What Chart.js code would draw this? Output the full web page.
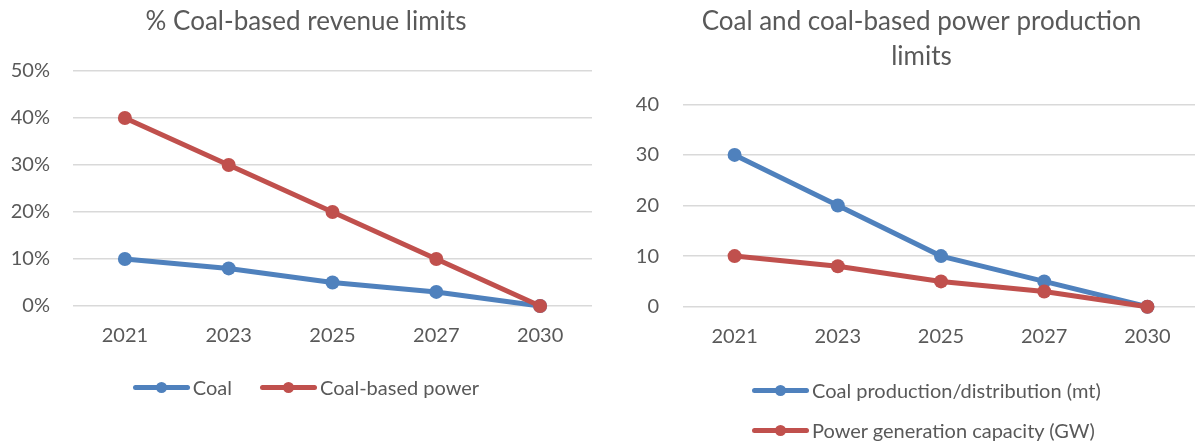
<!DOCTYPE html>
<html>
<head>
<meta charset="utf-8">
<script src="https://cdn.jsdelivr.net/npm/chart.js@4/dist/chart.umd.min.js"></script>
<style>
  html, body { margin: 0; padding: 0; background: #fff; overflow: hidden; width: 1195px; height: 444px; }
  .wrap { position: absolute; top: 0; }
  .legend { position: absolute; font-family: Lato, sans-serif; font-size: 20px; color: #595959; display: flex; }
  .legend .item { display: flex; align-items: center; white-space: nowrap; }
  .legend .mark { position: relative; width: 57px; height: 5px; border-radius: 3px; margin-right: 3px; }
  .legend .mark::after { content: ''; position: absolute; left: 23px; top: -3px; width: 11px; height: 11px; border-radius: 50%; background: inherit; }
  #legendLeft { left: 0; width: 612px; top: 375px; height: 24px; justify-content: center; gap: 28px; }
  #legendRight { left: 752px; top: 378px; flex-direction: column; gap: 16px; }
</style>
</head>
<body>
<div class="wrap" style="left:0"><canvas id="revenueChart" width="612" height="444"></canvas></div>
<div class="wrap" style="left:598px"><canvas id="productionChart" width="648" height="444"></canvas></div>
<div class="legend" id="legendLeft"></div>
<div class="legend" id="legendRight"></div>

<script>
// Data
const years = ['2021', '2023', '2025', '2027', '2030'];

const coalRevenue = [10, 8, 5, 3, 0];        // % of revenue
const powerRevenue = [40, 30, 20, 10, 0];    // % of revenue

const coalProduction = [30, 20, 10, 5, 0];   // mt
const powerCapacity = [10, 8, 5, 3, 0];      // GW

const revenueTitle = '% Coal-based revenue limits';
const productionTitle = ['Coal and coal-based power production', 'limits'];
const revenueLabels = ['Coal', 'Coal-based power'];
const productionLabels = ['Coal production/distribution (mt)', 'Power generation capacity (GW)'];

const blue = '#4F81BD';
const red = '#C0504D';
const textColor = '#595959';
const font = 'Lato, sans-serif';

Chart.defaults.font.family = font;
Chart.defaults.color = textColor;

function series(label, data, color, order) {
    return {
        label: label,
        data: data,
        borderColor: color,
        backgroundColor: color,
        pointBackgroundColor: color,
        pointBorderWidth: 0,
        pointRadius: 7,
        borderWidth: 5,
        tension: 0,
        clip: false,
        order: order
    };
}

// nudge the title sideways (the original chart frames were wider than the crop)
function titleShift(dx) {
    return {
        id: 'titleShift',
        afterLayout(chart) {
            if (chart.titleBlock) {
                chart.titleBlock.left += dx;
                chart.titleBlock.right += dx;
            }
        }
    };
}

function makeChart(id, title, titleLine, titlePad, dx, labels, sets, yMax, yFmt, yWidth, yPad, pad) {
    return new Chart(document.getElementById(id), {
        type: 'line',
        data: { labels: labels, datasets: sets },
        plugins: [titleShift(dx)],
        options: {
            responsive: false,
            devicePixelRatio: 1,
            animation: false,
            layout: { padding: pad },
            plugins: {
                legend: { display: false },
                tooltip: { enabled: false },
                title: {
                    display: true,
                    text: title,
                    color: textColor,
                    font: { size: 26, weight: 'normal', lineHeight: titleLine },
                    padding: titlePad
                }
            },
            scales: {
                x: {
                    offset: true,
                    grid: { display: false, drawTicks: false },
                    border: { display: false },
                    ticks: { font: { size: 20 }, padding: 18, color: textColor },
                    afterFit: s => { s.height = 50; }
                },
                y: {
                    min: 0,
                    max: yMax,
                    grid: { color: '#d9d9d9', lineWidth: 1.5, drawTicks: false },
                    border: { display: false },
                    ticks: { stepSize: 10, font: { size: 20 }, padding: yPad, color: textColor, callback: yFmt },
                    afterFit: s => { s.width = yWidth; }
                }
            }
        }
    });
}

makeChart('revenueChart', revenueTitle, 1.2, { top: 6.4, bottom: 33.4 }, 10, years, [
    series(revenueLabels[0], coalRevenue, blue, 2),
    series(revenueLabels[1], powerRevenue, red, 1)
], 50, v => v + '%', 73, 23, { right: 20, bottom: 88 });

makeChart('productionChart', productionTitle, 1.346, { top: 4.5, bottom: 29.8 }, 23, years, [
    series(productionLabels[0], coalProduction, blue, 2),
    series(productionLabels[1], powerCapacity, red, 1)
], 40, v => v, 85, 24, { right: 47, bottom: 87.3 });

// HTML legends (line + dot markers like the original)
function fillLegend(el, labels, colors) {
    labels.forEach((label, i) => {
        const item = document.createElement('div');
        item.className = 'item';
        item.innerHTML = `<span class="mark" style="background:${colors[i]}"></span><span>${label}</span>`;
        el.appendChild(item);
    });
}
fillLegend(document.getElementById('legendLeft'), revenueLabels, [blue, red]);
fillLegend(document.getElementById('legendRight'), productionLabels, [blue, red]);
</script>
</body>
</html>
